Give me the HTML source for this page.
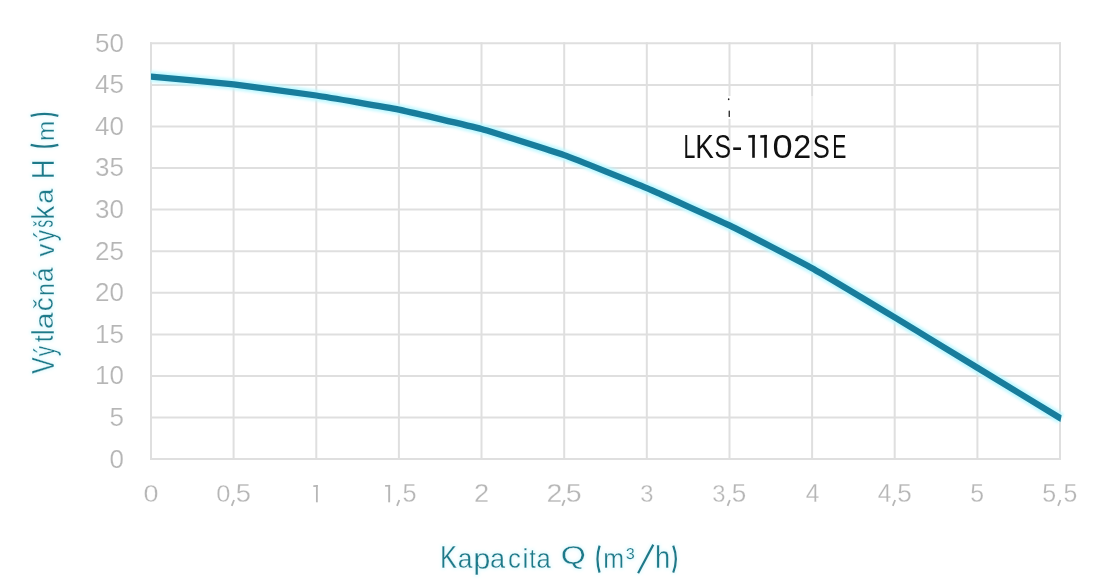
<!DOCTYPE html>
<html><head><meta charset="utf-8"><style>
html,body{margin:0;padding:0;background:#fff;}
svg{display:block;}
text{font-family:"Liberation Sans",sans-serif;}
</style></head><body>
<svg width="1100" height="584" viewBox="0 0 1100 584">
<defs>
<clipPath id="cl"><polygon points="151,0 1064,0 1064,405 1061.9,414 1060.4,422 1060,430 1060,584 151,584"/></clipPath>
<clipPath id="cl2"><rect x="150.5" y="0" width="914" height="584"/></clipPath>
<filter id="tglow" x="-10%" y="-10%" width="120%" height="120%">
<feMorphology in="SourceAlpha" operator="dilate" radius="1" result="d"/>
<feGaussianBlur in="d" stdDeviation="1.5" result="b"/>
<feFlood flood-color="#c6f7ff" flood-opacity="0.45"/>
<feComposite in2="b" operator="in" result="g"/>
<feMerge><feMergeNode in="g"/><feMergeNode in="SourceGraphic"/></feMerge>
</filter>
<filter id="nof" x="0" y="0" width="1100" height="584" filterUnits="userSpaceOnUse"><feOffset dx="0" dy="0"/></filter>
<filter id="glow" x="-5%" y="-20%" width="110%" height="140%"><feGaussianBlur stdDeviation="1.4"/></filter>
</defs>
<rect width="1100" height="584" fill="#fff"/>
<g stroke="#dfdfdf" stroke-width="2" fill="none">
<line x1="151.0" y1="42.3" x2="151.0" y2="460.1"/>
<line x1="233.6" y1="42.3" x2="233.6" y2="460.1"/>
<line x1="316.3" y1="42.3" x2="316.3" y2="460.1"/>
<line x1="398.9" y1="42.3" x2="398.9" y2="460.1"/>
<line x1="481.5" y1="42.3" x2="481.5" y2="460.1"/>
<line x1="564.2" y1="42.3" x2="564.2" y2="460.1"/>
<line x1="646.8" y1="42.3" x2="646.8" y2="460.1"/>
<line x1="729.5" y1="42.3" x2="729.5" y2="460.1"/>
<line x1="812.1" y1="42.3" x2="812.1" y2="460.1"/>
<line x1="894.7" y1="42.3" x2="894.7" y2="460.1"/>
<line x1="977.4" y1="42.3" x2="977.4" y2="460.1"/>
<line x1="1060.0" y1="42.3" x2="1060.0" y2="460.1"/>
<line x1="150" y1="459.1" x2="1061" y2="459.1"/>
<line x1="150" y1="417.5" x2="1061" y2="417.5"/>
<line x1="150" y1="375.9" x2="1061" y2="375.9"/>
<line x1="150" y1="334.4" x2="1061" y2="334.4"/>
<line x1="150" y1="292.8" x2="1061" y2="292.8"/>
<line x1="150" y1="251.2" x2="1061" y2="251.2"/>
<line x1="150" y1="209.6" x2="1061" y2="209.6"/>
<line x1="150" y1="168.0" x2="1061" y2="168.0"/>
<line x1="150" y1="126.5" x2="1061" y2="126.5"/>
<line x1="150" y1="84.9" x2="1061" y2="84.9"/>
<line x1="150" y1="43.3" x2="1061" y2="43.3"/>
</g>
<g filter="url(#nof)">
<g fill="#b6b6b6" font-size="26" text-anchor="end" stroke="#fff" stroke-width="0.2">
<text x="123.9" y="467.5">0</text>
<text x="123.9" y="425.9">5</text>
<text x="123.9" y="384.3">10</text>
<text x="123.9" y="342.8">15</text>
<text x="123.9" y="301.2">20</text>
<text x="123.9" y="259.6">25</text>
<text x="123.9" y="218.0">30</text>
<text x="123.9" y="176.4">35</text>
<text x="123.9" y="134.9">40</text>
<text x="123.9" y="93.3">45</text>
<text x="123.9" y="51.7">50</text>
</g>
<g stroke="#fff" stroke-width="0.25">
<text transform="translate(143.51,502.17) scale(1.123,1.026)" font-size="24" fill="#b6b6b6">0</text>
<text transform="translate(474.04,502.40) scale(1.133,1.040)" font-size="24" fill="#b6b6b6">2</text>
<text transform="translate(640.31,502.17) scale(0.991,1.026)" font-size="24" fill="#b6b6b6">3</text>
<text transform="translate(805.66,502.40) scale(1.021,1.055)" font-size="24" fill="#b6b6b6">4</text>
<text transform="translate(970.19,502.17) scale(1.035,1.040)" font-size="24" fill="#b6b6b6">5</text>
<text transform="translate(216.20,502.17) scale(1.061,1.026)" font-size="24" fill="#b6b6b6">0</text>
<text transform="translate(235.83,502.17) scale(1.140,1.040)" font-size="24" fill="#b6b6b6">5</text>
<text transform="translate(546.56,502.40) scale(1.187,1.040)" font-size="24" fill="#b6b6b6">2</text>
<text transform="translate(565.82,502.17) scale(1.193,1.040)" font-size="24" fill="#b6b6b6">5</text>
<text transform="translate(712.36,502.17) scale(0.991,1.026)" font-size="24" fill="#b6b6b6">3</text>
<text transform="translate(731.69,502.17) scale(1.088,1.040)" font-size="24" fill="#b6b6b6">5</text>
<text transform="translate(877.79,502.40) scale(1.021,1.055)" font-size="24" fill="#b6b6b6">4</text>
<text transform="translate(897.37,502.17) scale(1.088,1.040)" font-size="24" fill="#b6b6b6">5</text>
<text transform="translate(1042.28,502.17) scale(1.044,1.040)" font-size="24" fill="#b6b6b6">5</text>
<text transform="translate(1063.59,502.17) scale(1.035,1.040)" font-size="24" fill="#b6b6b6">5</text>
<text transform="translate(402.38,502.17) scale(1.053,1.040)" font-size="24" fill="#b6b6b6">5</text>
</g>
<g fill="#b6b6b6"><rect x="315.97" y="485.1" width="1.8" height="17.2"/><polygon points="313.32,485.3 317.77,485.0 317.77,486.7 313.32,486.9"/><rect x="388.21" y="484.9" width="1.9" height="17.4"/><polygon points="385.11,485.1 390.11,484.9 390.11,486.6 385.11,486.8"/></g>
<g stroke="#b6b6b6" stroke-width="1.8" fill="none"><path d="M234.04,500 L231.74,505.8"/><path d="M399.31,500 L397.01,505.8"/><path d="M564.58,500 L562.28,505.8"/><path d="M729.85,500 L727.55,505.8"/><path d="M895.13,500 L892.83,505.8"/><path d="M1060.40,500 L1058.10,505.8"/></g>
</g>
<path d="M140,75.51 L151,76.55 C161.32,77.52 223.27,83.17 233.60,84.35 C243.93,85.53 305.97,93.92 316.30,95.50 C326.63,97.08 388.57,107.61 398.90,109.70 C409.22,111.79 471.17,126.16 481.50,129.00 C491.83,131.84 553.87,151.41 564.20,155.10 C574.53,158.79 636.47,183.71 646.80,188.10 C657.13,192.49 719.17,220.39 729.50,225.40 C739.83,230.41 801.77,262.45 812.10,268.20 C822.43,273.95 884.37,311.17 894.70,317.40 C905.03,323.62 967.07,361.51 977.40,367.80 C987.73,374.09 1049.67,411.73 1060.00,418.00 L1061,418.61" fill="none" stroke="#bff8ff" stroke-width="11" stroke-linejoin="round" filter="url(#glow)" clip-path="url(#cl2)"/>
<path d="M140,75.51 L151,76.55 C161.32,77.52 223.27,83.17 233.60,84.35 C243.93,85.53 305.97,93.92 316.30,95.50 C326.63,97.08 388.57,107.61 398.90,109.70 C409.22,111.79 471.17,126.16 481.50,129.00 C491.83,131.84 553.87,151.41 564.20,155.10 C574.53,158.79 636.47,183.71 646.80,188.10 C657.13,192.49 719.17,220.39 729.50,225.40 C739.83,230.41 801.77,262.45 812.10,268.20 C822.43,273.95 884.37,311.17 894.70,317.40 C905.03,323.62 967.07,361.51 977.40,367.80 C987.73,374.09 1049.67,411.73 1060.00,418.00 L1070,424.08" fill="none" stroke="#187d9c" stroke-width="6.3" stroke-linejoin="round" clip-path="url(#cl)"/>
<rect x="724" y="96" width="11" height="23" fill="#fff"/>
<rect x="809" y="96" width="6" height="24" fill="#fff" opacity="0.45"/>
<ellipse cx="728.7" cy="99.3" rx="0.8" ry="1" fill="#222"/>
<rect x="728.6" y="110.5" width="1.3" height="6.5" rx="0.6" fill="#222"/>
<g filter="url(#nof)">
<text transform="translate(683.57,157.8) scale(0.641,1)" font-size="33.3" fill="#111">L</text>
<text transform="translate(695.34,157.8) scale(0.835,1)" font-size="33.3" fill="#111">K</text>
<text transform="translate(714.43,157.8) scale(0.747,1)" font-size="33.3" fill="#111">S</text>
<text transform="translate(731.80,157.8) scale(0.961,1)" font-size="33.3" fill="#111">-</text>
<text transform="translate(772.43,157.8) scale(1.087,1)" font-size="33.3" fill="#111">0</text>
<text transform="translate(793.19,157.8) scale(0.968,1)" font-size="33.3" fill="#111">2</text>
<text transform="translate(812.80,157.8) scale(0.768,1)" font-size="33.3" fill="#111">S</text>
<text transform="translate(832.28,157.8) scale(0.635,1)" font-size="33.3" fill="#111">E</text>
</g>
<g fill="#111">
<rect x="752.2" y="134.9" width="2.6" height="22.9"/>
<polygon points="748.3,135.3 754.8,134.9 754.8,137.4 748.3,137.7"/>
<rect x="764.2" y="134.9" width="2.6" height="22.9"/>
<polygon points="760.3,135.3 766.8,134.9 766.8,137.4 760.3,137.7"/>
</g>
<g filter="url(#tglow)">
<g stroke="#fff" stroke-width="0.35">
<text transform="translate(440.01,567.80) scale(0.829,0.999)" font-size="31" fill="#1e7a8a">K</text>
<text transform="translate(457.75,567.75) scale(0.850,0.867)" font-size="31" fill="#1e7a8a">a</text>
<text transform="translate(473.17,569.13) scale(0.996,0.950)" font-size="31" fill="#1e7a8a">p</text>
<text transform="translate(490.01,567.75) scale(0.875,0.867)" font-size="31" fill="#1e7a8a">a</text>
<text transform="translate(508.07,567.75) scale(0.829,0.867)" font-size="31" fill="#1e7a8a">c</text>
<text transform="translate(522.32,567.80) scale(0.926,0.881)" font-size="31" fill="#1e7a8a">i</text>
<text transform="translate(529.55,567.75) scale(0.717,0.875)" font-size="31" fill="#1e7a8a">t</text>
<text transform="translate(536.48,567.75) scale(0.825,0.867)" font-size="31" fill="#1e7a8a">a</text>
<text transform="translate(560.69,563.51) scale(1.042,0.806)" font-size="31" fill="#1e7a8a">Q</text>
<text transform="translate(603.36,567.80) scale(0.806,0.870)" font-size="31" fill="#1e7a8a">m</text>
<text transform="translate(625.88,566.81) scale(0.839,0.865)" font-size="31" fill="#1e7a8a">³</text>
<text transform="translate(655.02,567.80) scale(0.879,1.019)" font-size="31" fill="#1e7a8a">h</text>
</g>
<g fill="none" stroke="#1e7a8a" stroke-width="2.3" stroke-linecap="butt">
<path d="M599.6,545.6 Q595.3,559 599.6,572.6"/>
<path d="M673.2,545.6 Q678.5,559 673.2,572.6"/>
<path d="M638.1,573.2 L653.3,544.6"/>
</g>
</g>
<g filter="url(#tglow)">
<g stroke="#fff" stroke-width="0.35">
<text transform="rotate(-90) translate(-373.65,53.70) scale(0.796,1.009)" font-size="31" fill="#1e7a8a">V</text>
<text transform="rotate(-90) translate(-356.16,54.76) scale(0.666,0.961)" font-size="31" fill="#1e7a8a">ý</text>
<text transform="rotate(-90) translate(-342.07,53.44) scale(0.755,0.880)" font-size="31" fill="#1e7a8a">t</text>
<text transform="rotate(-90) translate(-335.29,53.70) scale(0.886,1.037)" font-size="31" fill="#1e7a8a">l</text>
<text transform="rotate(-90) translate(-329.32,53.46) scale(0.976,0.808)" font-size="31" fill="#1e7a8a">a</text>
<text transform="rotate(-90) translate(-311.13,53.43) scale(0.904,0.914)" font-size="31" fill="#1e7a8a">č</text>
<text transform="rotate(-90) translate(-295.78,53.70) scale(0.729,0.822)" font-size="31" fill="#1e7a8a">n</text>
<text transform="rotate(-90) translate(-282.27,53.44) scale(0.862,0.903)" font-size="31" fill="#1e7a8a">á</text>
<text transform="rotate(-90) translate(-256.58,53.70) scale(0.823,0.837)" font-size="31" fill="#1e7a8a">v</text>
<text transform="rotate(-90) translate(-241.57,54.76) scale(0.745,0.961)" font-size="31" fill="#1e7a8a">ý</text>
<text transform="rotate(-90) translate(-227.53,53.44) scale(0.490,0.888)" font-size="31" fill="#1e7a8a">š</text>
<text transform="rotate(-90) translate(-219.40,53.70) scale(0.890,1.037)" font-size="31" fill="#1e7a8a">k</text>
<text transform="rotate(-90) translate(-203.79,53.46) scale(0.875,0.808)" font-size="31" fill="#1e7a8a">a</text>
<text transform="rotate(-90) translate(-179.15,53.60) scale(0.894,1.009)" font-size="31" fill="#1e7a8a">H</text>
<text transform="rotate(-90) translate(-141.00,53.50) scale(0.788,0.774)" font-size="31" fill="#1e7a8a">m</text>
</g>
<g fill="none" stroke="#1e7a8a" stroke-width="2.3">
<path d="M30.6,144.8 Q44.5,148.4 58.4,144.8"/>
<path d="M30.6,115.8 Q44.5,112 58.4,115.8"/>
</g>
</g>
</svg>
</body></html>
